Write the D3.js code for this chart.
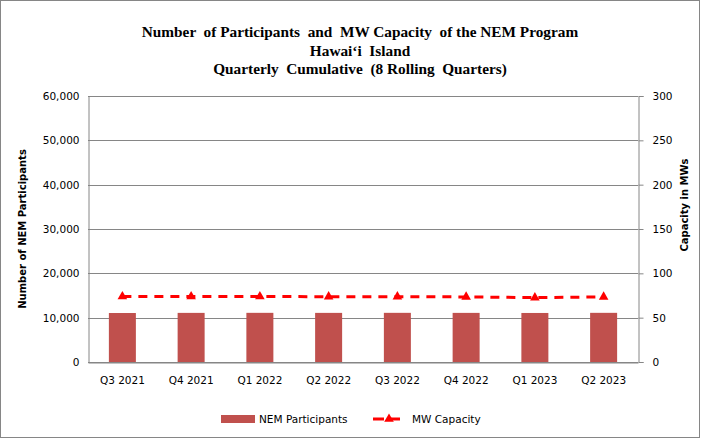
<!DOCTYPE html>
<html>
<head>
<meta charset="utf-8">
<script src="https://cdn.jsdelivr.net/npm/d3@7"></script>
<style>
html,body{margin:0;padding:0;background:#fff;}
svg{display:block;}
</style>
</head>
<body>
<script>
const categories = ["Q3 2021","Q4 2021","Q1 2022","Q2 2022","Q3 2022","Q4 2022","Q1 2023","Q2 2023"];
const participants = [11050, 11080, 11090, 11080, 11090, 11080, 11060, 11090];
const mwCapacity = [73.8, 73.8, 73.8, 73.7, 73.7, 73.4, 72.6, 73.4];
const leftTicks = [0, 10000, 20000, 30000, 40000, 50000, 60000];
const rightTicks = [0, 50, 100, 150, 200, 250, 300];
const titleLines = ["Number  of Participants  and  MW Capacity  of the NEM Program", "Hawai‘i  Island", "Quarterly  Cumulative  (8 Rolling  Quarters)"];

const W = 701, H = 439;
const m = {left: 88, right: 638, top: 96, bottom: 362};
const svg = d3.select("body").append("svg").attr("width", W).attr("height", H);

svg.append("rect").attr("x", 0.5).attr("y", 0.5).attr("width", W - 2).attr("height", H - 2)
  .attr("fill", "#fff").attr("stroke", "#868686").attr("stroke-width", 1);

const xPt = d3.scaleBand().domain(categories).range([m.left, m.right]);
const yL = d3.scaleLinear().domain([0, 60000]).range([m.bottom, m.top]);
const yR = d3.scaleLinear().domain([0, 300]).range([m.bottom, m.top]);

// gridlines
svg.append("g").selectAll("line").data(leftTicks).join("line")
  .attr("x1", m.left).attr("x2", m.right)
  .attr("y1", d => Math.round(yL(d)) + 0.5).attr("y2", d => Math.round(yL(d)) + 0.5)
  .attr("stroke", "#868686").attr("stroke-width", 1);

// left axis
const axL = svg.append("g").attr("transform", `translate(${m.left + 0.5},0)`)
  .call(d3.axisLeft(yL).tickValues(leftTicks).tickFormat(d3.format(",")).tickSize(0).tickPadding(9));
axL.select(".domain").attr("stroke", "#868686");
axL.selectAll("text").attr("font-family", "DejaVu Sans").attr("font-size", "10.5px").attr("fill", "#000");

// right axis
const axR = svg.append("g").attr("transform", `translate(${m.right + 0.5},0)`)
  .call(d3.axisRight(yR).tickValues(rightTicks).tickSize(5).tickPadding(9));
axR.select(".domain").attr("stroke", "#868686");
axR.selectAll("line").attr("stroke", "#868686");
axR.selectAll("text").attr("font-family", "DejaVu Sans").attr("font-size", "10.5px").attr("fill", "#000");

// bottom axis
const axB = svg.append("g").attr("transform", `translate(0,${m.bottom + 0.5})`)
  .call(d3.axisBottom(xPt).tickSize(0).tickPadding(14));
axB.select(".domain").attr("stroke", "#868686");
axB.selectAll("text").attr("font-family", "DejaVu Sans").attr("font-size", "10.5px").attr("fill", "#000");

// bars
svg.append("g").selectAll("rect").data(categories).join("rect")
  .attr("x", (d) => xPt(d) + xPt.bandwidth() / 2 - 13.5)
  .attr("width", 27)
  .attr("y", (d, i) => yL(participants[i]))
  .attr("height", (d, i) => m.bottom - yL(participants[i]))
  .attr("fill", "#C0504D");

// line
const line = d3.line().x((d, i) => xPt(categories[i]) + xPt.bandwidth() / 2).y(d => yR(d));
svg.append("path").datum(mwCapacity).attr("d", line)
  .attr("fill", "none").attr("stroke", "#FF0000").attr("stroke-width", 3)
  .attr("stroke-dasharray", "9,7");
const tri = d3.symbol().type(d3.symbolTriangle).size(40);
svg.append("g").selectAll("path").data(mwCapacity).join("path")
  .attr("d", tri)
  .attr("transform", (d, i) => `translate(${xPt(categories[i]) + xPt.bandwidth() / 2},${yR(d)})`)
  .attr("fill", "#FF0000");

// title
svg.append("g").selectAll("text").data(titleLines).join("text")
  .attr("x", 360).attr("y", (d, i) => 37 + i * 18.5)
  .attr("text-anchor", "middle")
  .attr("font-family", "Liberation Serif").attr("font-weight", "bold").attr("font-size", "15.3px")
  .attr("fill", "#000")
  .style("white-space", "pre").attr("xml:space", "preserve")
  .text(d => d);

// axis titles
svg.append("text").attr("transform", `translate(26,229) rotate(-90)`)
  .attr("text-anchor", "middle").attr("font-family", "DejaVu Sans").attr("font-weight", "bold")
  .attr("font-size", "10px").attr("fill", "#000").text("Number of NEM Participants");
svg.append("text").attr("transform", `translate(688,205) rotate(-90)`)
  .attr("text-anchor", "middle").attr("font-family", "DejaVu Sans").attr("font-weight", "bold")
  .attr("font-size", "10px").attr("fill", "#000").text("Capacity in MWs");

// legend
const lg = svg.append("g");
lg.append("rect").attr("x", 221).attr("y", 415).attr("width", 34).attr("height", 8).attr("fill", "#C0504D");
lg.append("text").attr("x", 259).attr("y", 423).attr("font-family", "DejaVu Sans").attr("font-size", "10.5px")
  .attr("fill", "#000").text("NEM Participants");
lg.append("line").attr("x1", 373).attr("x2", 405).attr("y1", 419).attr("y2", 419)
  .attr("stroke", "#FF0000").attr("stroke-width", 3).attr("stroke-dasharray", "11,5");
lg.append("path").attr("d", tri).attr("transform", "translate(389,419)").attr("fill", "#FF0000");
lg.append("text").attr("x", 412).attr("y", 423).attr("font-family", "DejaVu Sans").attr("font-size", "10.5px")
  .attr("fill", "#000").text("MW Capacity");
</script>
</body>
</html>
